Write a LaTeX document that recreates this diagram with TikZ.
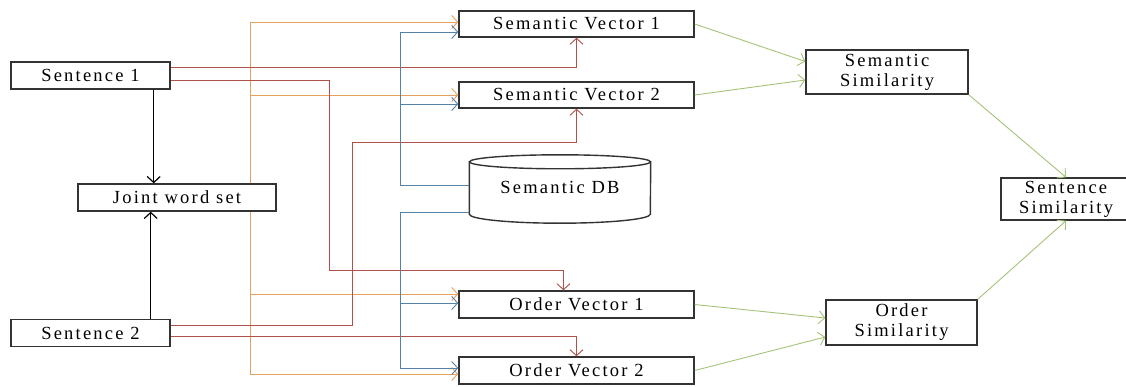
\documentclass[tikz,border=0pt]{standalone}
\usepackage{fontspec}
\setmainfont{Liberation Serif}
\usetikzlibrary{arrows.meta}

\definecolor{ocol}{RGB}{232,160,95}
\definecolor{rcol}{RGB}{175,80,75}
\definecolor{bcol}{RGB}{85,130,165}
\definecolor{gcol}{RGB}{165,195,120}

\tikzset{
    txt/.style={font=\fontsize{18.5}{20}\selectfont\addfontfeature{LetterSpace=12}},
    boxline/.style={draw=black!80, line width=1.4pt},
    box/.style={boxline, fill=white, inner sep=0pt, txt, align=center},
    tip/.style={-{Straight Barb[length=6pt,width=13pt]}},
    oline/.style={ocol, line width=0.9pt, tip},
    rline/.style={rcol, line width=0.9pt, tip},
    bline/.style={bcol, line width=0.9pt, tip},
    gline/.style={gcol, line width=0.9pt, tip},
    kline/.style={black, line width=1.2pt, tip}
}

\begin{document}
\begin{tikzpicture}[x=1pt, y=1pt]
    \useasboundingbox (0, 0) rectangle (1126, 386);

    \node[box, minimum width=159pt, minimum height=27pt] (sen1) at (90.5, 310.5) {Sentence 1};
    \node[box, minimum width=198pt, minimum height=27pt] (joint) at (177, 188.5) {Joint word set};
    \node[box, minimum width=159pt, minimum height=27pt] (sen2) at (90.5, 53) {Sentence 2};

    \node[box, minimum width=235pt, minimum height=26pt] (semv1) at (576.5, 362) {Semantic Vector 1};
    \node[box, minimum width=235pt, minimum height=26pt] (semv2) at (576.5, 291) {Semantic Vector 2};
    \node[txt, inner sep=0pt, minimum width=181pt, minimum height=68pt] (db) at (560, 197) {};
    \draw[boxline] ([yshift=-7pt]db.north west) -- ([yshift=9pt]db.south west)
        arc[start angle=180, end angle=360, x radius=90.5pt, y radius=9pt] -- ([yshift=-7pt]db.north east);
    \draw[boxline] ([yshift=-7pt]db.north) ellipse[x radius=90.5pt, y radius=7pt];
    \node[txt] (dbtext) at (560, 199) {Semantic DB};
    \node[box, minimum width=235pt, minimum height=27pt] (ordv1) at (576.5, 81.5) {Order Vector 1};
    \node[box, minimum width=235pt, minimum height=27pt] (ordv2) at (576.5, 15.5) {Order Vector 2};

    \node[box, minimum width=162pt, minimum height=44pt] (semsim) at (887, 314) {Semantic\\Similarity};
    \node[box, minimum width=151pt, minimum height=45pt] (ordsim) at (901.5, 63.5) {Order\\Similarity};
    \node[box, minimum width=130pt, minimum height=42pt] (sensim) at (1066, 187) {Sentence\\Similarity};

    \draw[kline] ([xshift=-17pt]sen1.south east) -- ([xshift=-17pt]sen1.south east |- joint.north);
    \draw[kline] ([xshift=-20pt]sen2.north east) -- ([xshift=-20pt]sen2.north east |- joint.south);

    \draw[oline] ([xshift=-26pt]joint.north east) |- ([yshift=2pt]semv1.west);
    \draw[oline] ([xshift=-26pt]joint.north east) |- (semv2.west);
    \draw[oline] ([xshift=-26pt]joint.south east) |- ([yshift=10.5pt]ordv1.west);
    \draw[oline] ([xshift=-26pt]joint.south east) |- ([yshift=-3.5pt]ordv2.west);

    \draw[rline] ([yshift=8.5pt]sen1.east) -| (semv1.south);
    \draw[rline] ([yshift=-4.5pt]sen1.east) -- ++(159, 0) -- ++(0, -190) -| ([xshift=-13pt]ordv1.north);
    \draw[rline] ([yshift=8pt]sen2.east) -- ++(182, 0) -- ++(0, 183) -| (semv2.south);
    \draw[rline] ([yshift=-3pt]sen2.east) -| (ordv2.north);

    \draw[bline] ([yshift=4pt]db.west) -- ++(-69, 0) |- ([yshift=-8pt]semv1.west);
    \draw[bline] ([yshift=4pt]db.west) -- ++(-69, 0) |- ([yshift=-9pt]semv2.west);
    \draw[bline] ([yshift=-23pt]db.west) -- ++(-69, 0) |- ([yshift=1.5pt]ordv1.west);
    \draw[bline] ([yshift=-23pt]db.west) -- ++(-69, 0) |- ([yshift=2.5pt]ordv2.west);

    \draw[gline] (semv1.east) -- ([yshift=10.5pt]semsim.west);
    \draw[gline] (semv2.east) -- ([yshift=-8pt]semsim.west);
    \draw[gline] (ordv1.east) -- ([yshift=4.5pt]ordsim.west);
    \draw[gline] (ordv2.east) -- ([yshift=-14.5pt]ordsim.west);
    \draw[gline] (semsim.south east) -- (sensim.north);
    \draw[gline] (ordsim.north east) -- (sensim.south);
\end{tikzpicture}
\end{document}
